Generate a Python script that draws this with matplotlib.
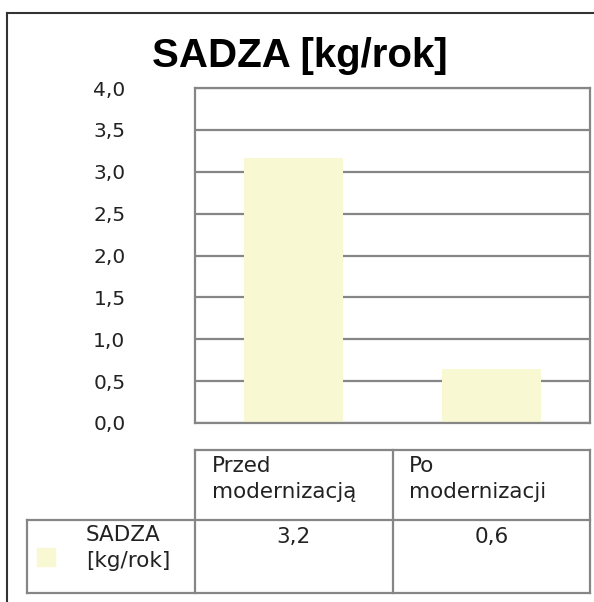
import numpy as np
import matplotlib
matplotlib.use('Agg')
import matplotlib.pyplot as plt
from matplotlib.lines import Line2D
from matplotlib.patches import Rectangle
from matplotlib.transforms import blended_transform_factory

# data
categories = ['Przed\nmodernizacją', 'Po\nmodernizacji']
values = [3.16, 0.64]
series_name = 'SADZA\n[kg/rok]'
title = 'SADZA [kg/rok]'
yticks = [0.0, 0.5, 1.0, 1.5, 2.0, 2.5, 3.0, 3.5, 4.0]

W, H = 594, 602
bar_color = '#f8f8d2'
line_gray = '#868686'
plt.rcParams['font.family'] = ['DejaVu Sans']


def fy(py):
	# pixel row (from top) -> figure fraction
	return 1 - py / H


def fx(px):
	return px / W


fig = plt.figure(figsize=(W / 100, H / 100), dpi=100)
ax = fig.add_axes([fx(195), fy(423), fx(590) - fx(195), fy(88) - fy(423)])

x = np.arange(len(categories))
ax.bar(x, values, width=0.5, color=bar_color, zorder=2)
ax.set_xlim(-0.5, len(categories) - 0.5)
ax.set_ylim(0, 4)
ax.set_yticks(yticks)
ax.set_yticklabels([('%.1f' % t).replace('.', ',') for t in yticks],
                   fontsize=14.5, color='#222222')
ax.set_xticks([])
ax.tick_params(axis='y', length=0, pad=50)
ax.grid(axis='y', color=line_gray, lw=1.6, zorder=1)
for s in ax.spines.values():
	s.set_color(line_gray)
	s.set_linewidth(1.6)

# title
fig.text(fx(300), fy(67), title, ha='center', va='baseline',
         fontsize=29, fontweight='bold', family='Liberation Sans')

# outer frame
fig.add_artist(Line2D([fx(7), fx(7)], [fy(13), fy(H)], color='#333333', lw=1.5))
fig.add_artist(Line2D([fx(7), fx(W)], [fy(13), fy(13)], color='#333333', lw=1.5))

# data table below the plot, columns follow the category axis
tr = blended_transform_factory(ax.transData, fig.transFigure)
top, mid, bot = fy(450), fy(520), fy(593)
edges = np.arange(len(categories) + 1) - 0.5
kw = dict(color=line_gray, lw=1.6, clip_on=False)
for e in edges:
	fig.add_artist(Line2D([e, e], [top, bot], transform=tr, **kw))
fig.add_artist(Line2D([edges[0], edges[-1]], [top, top], transform=tr, **kw))
fig.add_artist(Line2D([fx(27), fx(590)], [mid, mid], **kw))
fig.add_artist(Line2D([fx(27), fx(590)], [bot, bot], **kw))
fig.add_artist(Line2D([fx(27), fx(27)], [mid, bot], **kw))

for i, (c, v) in enumerate(zip(categories, values)):
	fig.text(0, fy(456), c, transform=tr, fontsize=15.5, va='top', ha='left',
	         linespacing=1.4, color='#222222')
	fig.texts[-1].set_x(edges[i] + 0.085)
	fig.text(0, fy(527), ('%.1f' % v).replace('.', ','), transform=tr,
	         fontsize=15.5, va='top', ha='center', color='#222222')
	fig.texts[-1].set_x(x[i])

fig.text(fx(86), fy(525), series_name, fontsize=15.5, va='top', ha='left',
         linespacing=1.4, color='#222222')
fig.add_artist(Rectangle((fx(37), fy(566)), fx(18), 18 / H,
                         color=bar_color))

fig.savefig('out.png', dpi=100)
